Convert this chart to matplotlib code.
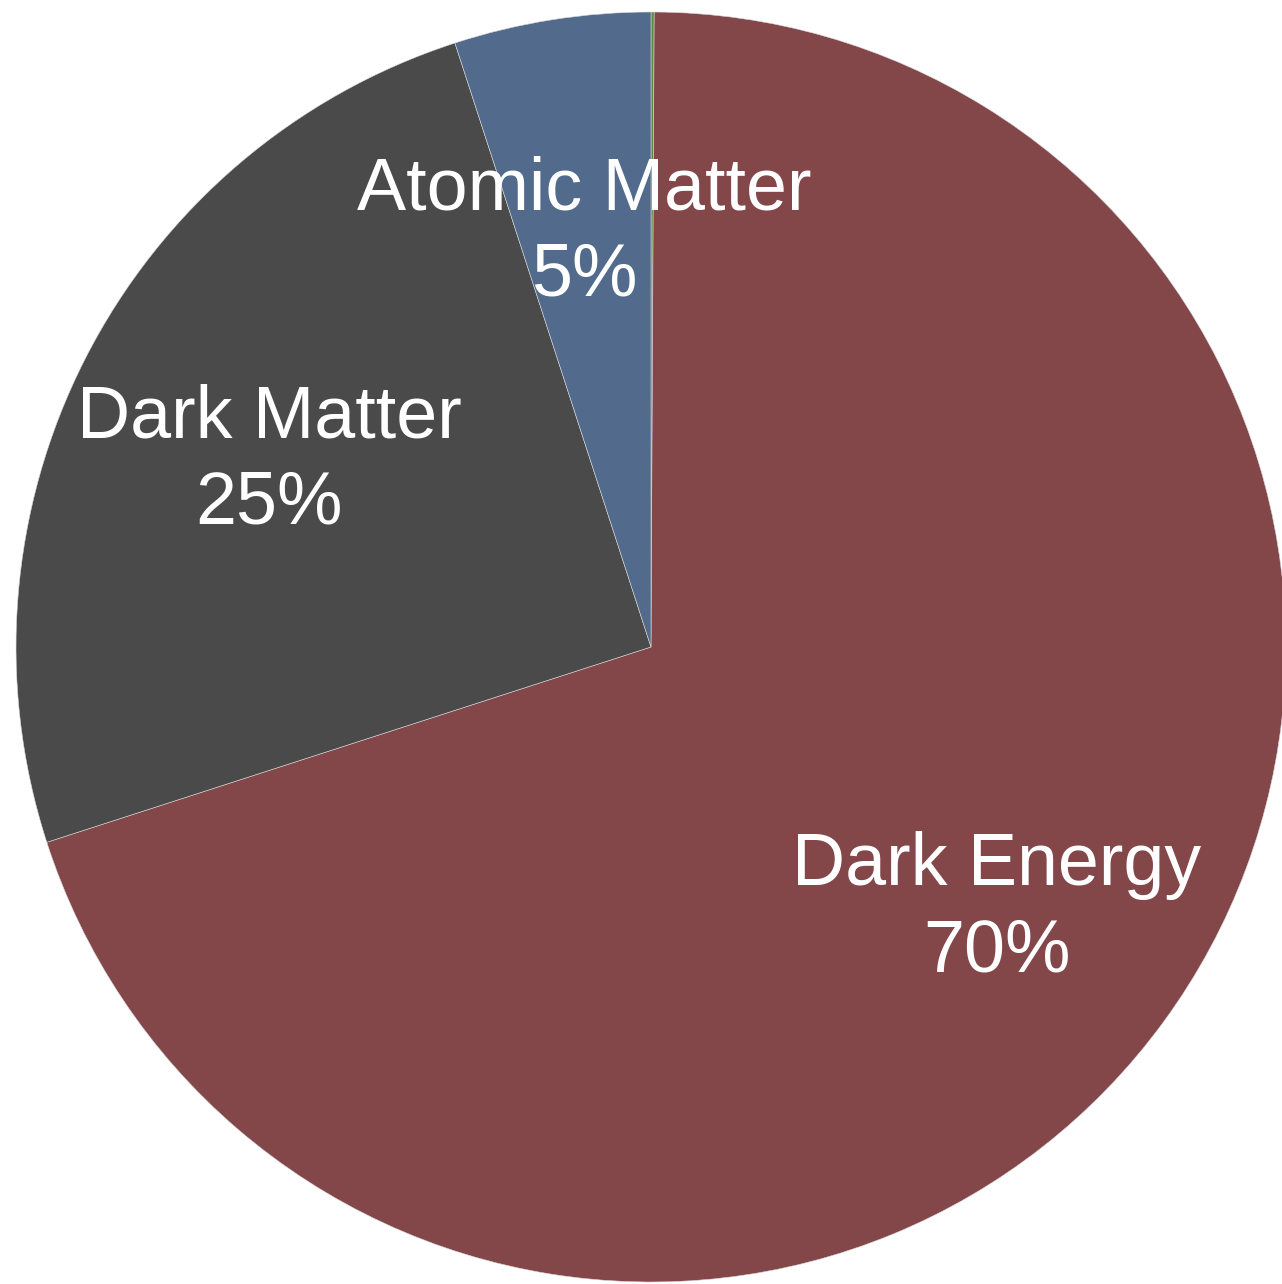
import numpy as np
import matplotlib.pyplot as plt
import matplotlib.transforms as mtransforms

plt.rcParams['font.family'] = ['Liberation Sans', 'DejaVu Sans']

# composition of the universe (percent), clockwise from 12 o'clock
components = ["", "Dark Energy", "Dark Matter", "Atomic Matter"]
shares = [0.08, 70, 25, 5]
pct_labels = ["", "70%", "25%", "5%"]
colors = ["#5b8a3c", "#834649", "#4a4a4a", "#526b8c"]

W, H = 1282, 1284
fig = plt.figure(figsize=(W / 100, H / 100), dpi=100)
ax = fig.add_axes([0, 0, 1, 1])

labels = [f"{c}\n{p}" if c else "" for c, p in zip(components, pct_labels)]
wedges, texts = ax.pie(shares, labels=labels, colors=colors, startangle=90,
                       counterclock=False, labeldistance=0.675,
                       wedgeprops=dict(edgecolor="#d8d8d8", linewidth=0.4),
                       textprops=dict(color="white", fontsize=53))
# nudge labels down a little so the block sits like the original
shift = mtransforms.ScaledTranslation(0, -0.09, fig.dpi_scale_trans)
for t in texts:
    t.set_ha("center")
    t.set_va("center")
    t.set_linespacing(1.32)
    t.set_transform(t.get_transform() + shift)

# pie centre sits at pixel (651, 647), radius 635 px
r_px = 635
ax.set_xlim(-651 / r_px, (W - 651) / r_px)
ax.set_ylim(-(H - 647) / r_px, 647 / r_px)
ax.set_aspect("auto")
ax.axis("off")

fig.savefig("out.png", dpi=100)
